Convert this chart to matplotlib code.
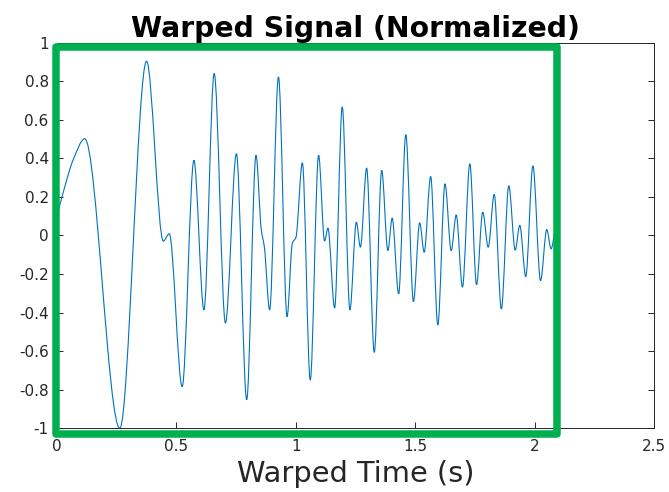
import numpy as np
import matplotlib
matplotlib.use("Agg")
import matplotlib.pyplot as plt
from matplotlib.path import Path
from matplotlib.patches import PathPatch, Rectangle

# ---- data (extrema / shape points of the signal) ----
warped_time = [0.000, 0.022, 0.070, 0.116, 0.263, 0.375, 0.445, 0.470, 0.524, 0.573,
               0.615, 0.658, 0.705, 0.751, 0.794, 0.833, 0.855, 0.868, 0.890, 0.927,
               0.963, 0.985, 1.000, 1.027, 1.060, 1.095, 1.120, 1.134, 1.162, 1.194,
               1.226, 1.253, 1.270, 1.296, 1.328, 1.359, 1.385, 1.403, 1.430, 1.460,
               1.492, 1.518, 1.537, 1.564, 1.594, 1.624, 1.650, 1.671, 1.697, 1.728,
               1.756, 1.782, 1.805, 1.830, 1.860, 1.891, 1.918, 1.937, 1.962, 1.992,
               2.024, 2.050, 2.068, 2.085]
signal = [0.100, 0.205, 0.400, 0.502, -1.000, 0.904, -0.029, 0.009, -0.784, 0.390,
          -0.386, 0.840, -0.454, 0.424, -0.852, 0.416, 0.030, -0.060, -0.386, 0.823,
          -0.421, -0.040, -0.010, 0.377, -0.750, 0.416, -0.029, 0.038, -0.376, 0.667,
          -0.386, 0.069, -0.061, 0.350, -0.606, 0.338, -0.078, 0.090, -0.303, 0.523,
          -0.343, 0.066, -0.087, 0.306, -0.464, 0.268, -0.078, 0.107, -0.268, 0.372,
          -0.255, 0.121, -0.061, 0.213, -0.381, 0.258, -0.076, 0.053, -0.213, 0.361,
          -0.234, 0.031, -0.069, 0.030]

x_ticks = [0, 0.5, 1, 1.5, 2, 2.5]
x_tick_labels = ["0", "0.5", "1", "1.5", "2", "2.5"]
y_ticks = [-1, -0.8, -0.6, -0.4, -0.2, 0, 0.2, 0.4, 0.6, 0.8, 1]
y_tick_labels = ["-1", "-0.8", "-0.6", "-0.4", "-0.2", "0", "0.2", "0.4", "0.6", "0.8", "1"]

highlight_x = [-0.006, 2.093]
highlight_y = [-1.032, 0.980]

title_text = "Warped Signal (Normalized)"
xlabel_text = "Warped Time (s)"


def smooth_path(x, y):
    """Smooth (Bezier) path through the read points; the library renders the curve."""
    x = np.asarray(x, float)
    y = np.asarray(y, float)
    d = np.diff(y) / np.diff(x)
    m = np.zeros_like(x)
    m[0], m[-1] = d[0], d[-1]
    for i in range(1, len(x) - 1):
        if d[i - 1] * d[i] > 0:
            h0, h1 = x[i] - x[i - 1], x[i + 1] - x[i]
            w1, w2 = 2 * h1 + h0, h1 + 2 * h0
            m[i] = (w1 + w2) / (w1 / d[i - 1] + w2 / d[i])
    verts = [(x[0], y[0])]
    codes = [Path.MOVETO]
    for i in range(len(x) - 1):
        h = x[i + 1] - x[i]
        verts += [(x[i] + h / 3, y[i] + m[i] * h / 3),
                  (x[i + 1] - h / 3, y[i + 1] - m[i + 1] * h / 3),
                  (x[i + 1], y[i + 1])]
        codes += [Path.CURVE4] * 3
    return Path(verts, codes)


plt.rcParams['font.family'] = ['DejaVu Sans']
plt.rcParams['axes.unicode_minus'] = False

fig = plt.figure(figsize=(6.69, 4.92), dpi=100)
ax = fig.add_axes([0.0852, 0.1295, 0.8928, 0.7837])

ax.add_patch(PathPatch(smooth_path(warped_time, signal), fill=False,
                       edgecolor='#0072BD', lw=0.8, zorder=3))

ax.add_patch(Rectangle((highlight_x[0], highlight_y[0]),
                       highlight_x[1] - highlight_x[0], highlight_y[1] - highlight_y[0],
                       fill=False, edgecolor='#00B050', lw=5.4, joinstyle='round',
                       clip_on=False, zorder=5))

ax.set_xlim(0, 2.5)
ax.set_ylim(-1, 1)
ax.set_xticks(x_ticks)
ax.set_xticklabels(x_tick_labels)
ax.set_yticks(y_ticks)
ax.set_yticklabels(y_tick_labels)

ax.tick_params(direction='in', top=True, right=True, length=4, width=0.7,
               colors='#262626', labelsize=11)
ax.tick_params(axis='x', pad=8)
ax.tick_params(axis='y', pad=6)
for s in ax.spines.values():
    s.set_color('#262626')
    s.set_linewidth(0.7)

ax.set_title(title_text, fontsize=20.3, fontweight='bold', pad=4, color='black')
ax.set_xlabel(xlabel_text, fontsize=20.8, color='#262626', labelpad=4)

fig.savefig('out.png', dpi=100)
